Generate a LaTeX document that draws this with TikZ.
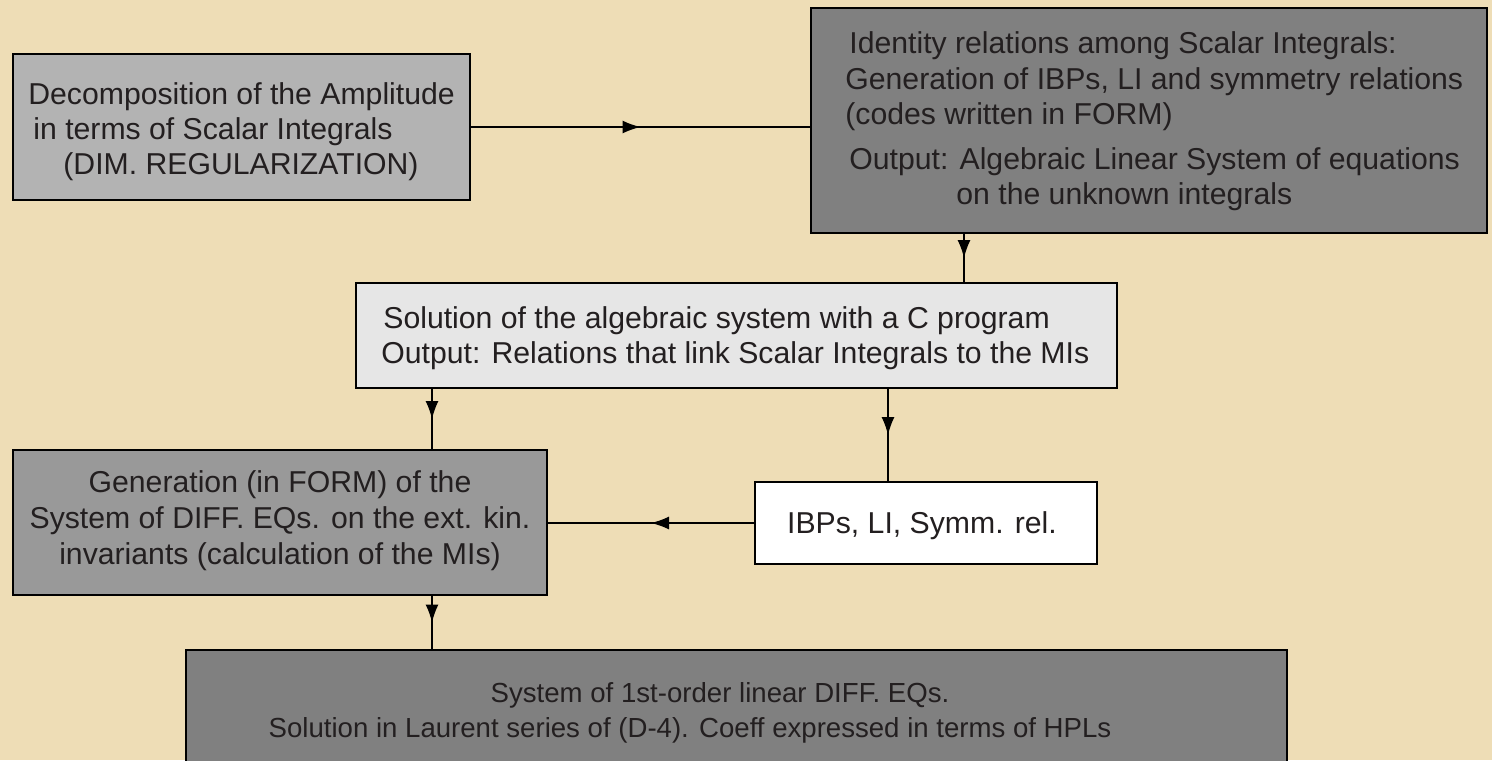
\documentclass[tikz,border=0pt]{standalone}
\usepackage{fontspec}
\setmainfont{Liberation Sans}
\usetikzlibrary{arrows.meta,decorations.markings,fit}
\definecolor{paper}{HTML}{EEDDB6}
\definecolor{textc}{HTML}{231F20}
\definecolor{fillA}{HTML}{B3B3B3}
\definecolor{fillB}{HTML}{808080}
\definecolor{fillC}{HTML}{E6E6E6}
\definecolor{fillD}{HTML}{999999}
\begin{document}
\begin{tikzpicture}[x=0.5pt,y=-0.5pt,
  box/.style={draw=black, line width=1pt, inner sep=0pt},
  txt/.style={anchor=base west, inner sep=0pt, text=textc, font=\fontsize{15.1}{18}\selectfont},
  ctxt/.style={anchor=base, inner sep=0pt, text=textc, font=\fontsize{15.1}{18}\selectfont},
  ftxt/.style={anchor=base, inner sep=0pt, text=textc, font=\fontsize{13.8}{17}\selectfont},
  flow/.style={line width=0.75pt, draw=black, postaction={decorate},
    decoration={markings, mark=at position 0.5 with {\arrow{Latex[length=9pt,width=6.5pt]}}}}]
\useasboundingbox (0,0) rectangle (1492,760);
\fill[paper] (0,0) rectangle (1492,760);
\clip (0,0) rectangle (1492,760);

% boxes
\node[box, fill=fillA, fit={(13,54)(470,200)}] (A) {};
\node[box, fill=fillB, fit={(811,8)(1487,233)}] (B) {};
\node[box, fill=fillC, fit={(356,283)(1117,388)}] (C) {};
\node[box, fill=fillD, fit={(13,450)(547,595)}] (D) {};
\node[box, fill=white, fit={(755,482)(1097,564)}] (E) {};
\node[box, fill=fillB, fit={(186,650)(1287,775)}] (F) {};

% texts
\node[txt] (a1) at (28,104) {Decomposition of the Amplitude};
\node[txt] (a2) at (33,139) {in terms of Scalar Integrals};
\node[txt] (a3) at (63,174) {(DIM. REGULARIZATION)};

\node[txt] (b1) at (849,54) {Identity relations among Scalar Integrals:};
\node[txt] (b2) at (845,89) {Generation of IBPs, LI and symmetry relations};
\node[txt] (b3) at (845,124) {(codes written in FORM)};
\node[txt] (b4) at (849,169) {Output: Algebraic Linear System of equations};
\node[txt] (b5) at (956,204) {on the unknown integrals};

\node[txt] (c1) at (383,328) {Solution of the algebraic system with a C program};
\node[txt] (c2) at (381,363) {Output: Relations that link Scalar Integrals to the MIs};

\node[ctxt] (d1) at (280,492) {Generation (in FORM) of the};
\node[ctxt] (d2) at (280,528) {System of DIFF. EQs. on the ext. kin.};
\node[ctxt] (d3) at (280,564) {invariants (calculation of the MIs)};

\node[ctxt] (e1) at (922,533) {IBPs, LI, Symm. rel.};

\node[ftxt] (f1) at (720,702) {System of 1st-order linear DIFF. EQs.};
\node[ftxt] (f2) at (690,737) {Solution in Laurent series of (D-4). Coeff expressed in terms of HPLs};

% connector helpers
\coordinate (bc) at (964,0);
\coordinate (cd) at (432,0);
\coordinate (ce) at (888,0);

% connectors
\draw[flow] (A.east) -- (B.west |- A.east);
\draw[flow] (B.south -| bc) -- (C.north -| bc);
\draw[flow] (C.south -| cd) -- (D.north -| cd);
\draw[flow] (C.south -| ce) -- (E.north -| ce);
\draw[flow] (E.west) -- (D.east |- E.west);
\draw[flow] (D.south -| cd) -- (F.north -| cd);
\end{tikzpicture}
\end{document}
